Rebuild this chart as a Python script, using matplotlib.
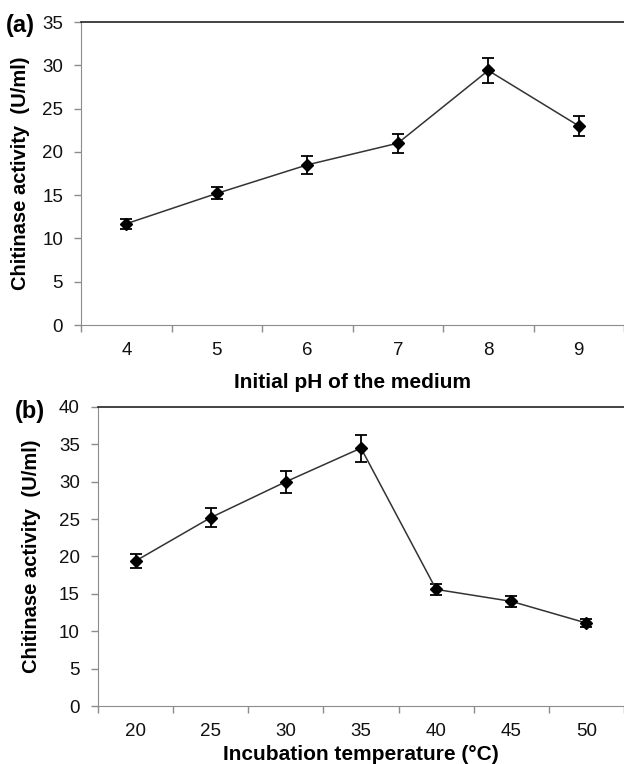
import numpy as np
import matplotlib
matplotlib.use("Agg")
import matplotlib.pyplot as plt

# panel (a): pH
ph_labels = ["4", "5", "6", "7", "8", "9"]
ph_activity = [11.7, 15.2, 18.5, 21.0, 29.4, 23.0]
ph_err = [0.6, 0.7, 1.0, 1.1, 1.4, 1.2]

# panel (b): temperature
temp_labels = ["20", "25", "30", "35", "40", "45", "50"]
temp_activity = [19.4, 25.2, 30.0, 34.5, 15.6, 14.0, 11.1]
temp_err = [0.9, 1.3, 1.5, 1.8, 0.7, 0.7, 0.5]

tickfont = ["Liberation Sans", "DejaVu Sans"]
bold = ["Liberation Sans", "DejaVu Sans"]
grey = "#8c8c8c"


def draw_panel(ax, labels, values, errs, ymax, xlabel):
    n = len(labels)
    x = np.arange(n)
    ax.errorbar(x, values, yerr=errs, color="#333333", lw=1.1,
                marker="D", markersize=6.5, mfc="black", mec="black",
                ecolor="black", elinewidth=1.3, capsize=4, capthick=1.3)
    ax.set_xlim(-0.5, n - 0.5)
    ax.set_ylim(0, ymax)
    ax.set_yticks(np.arange(0, ymax + 1, 5))
    ax.set_yticklabels([str(v) for v in range(0, ymax + 1, 5)],
                       family=tickfont, fontsize=13.5, color="#111111")
    # ticks on category boundaries, labels at centres
    ax.set_xticks(np.arange(n + 1) - 0.5)
    ax.set_xticklabels([""] * (n + 1))
    ax.set_xticks(x, minor=True)
    ax.set_xticklabels(labels, minor=True, family=tickfont, fontsize=13.5,
                       color="#111111")
    ax.tick_params(axis="x", which="minor", length=0, pad=12)
    ax.tick_params(axis="y", which="major", pad=8)
    ax.tick_params(axis="both", which="major", direction="out", length=5,
                   color=grey, width=1)
    ax.spines["right"].set_visible(False)
    ax.spines["left"].set_color(grey)
    ax.spines["bottom"].set_color(grey)
    ax.spines["top"].set_color("#222222")
    ax.spines["top"].set_linewidth(1.2)
    ax.set_ylabel("Chitinase activity  (U/ml)", family=bold,
                  fontweight="bold", fontsize=14.5)
    ax.set_xlabel(xlabel, family=bold, fontweight="bold", fontsize=15)


fig = plt.figure(figsize=(6.24, 7.64), dpi=100)

ax1 = fig.add_axes([0.130, 0.5746, 0.87, 0.3966])
draw_panel(ax1, ph_labels, ph_activity, ph_err, 35, "Initial pH of the medium")
ax1.xaxis.labelpad = 10
ax1.yaxis.labelpad = 9

ax2 = fig.add_axes([0.157, 0.0759, 0.843, 0.3914])
draw_panel(ax2, temp_labels, temp_activity, temp_err, 40,
           "Incubation temperature (°C)")
ax2.xaxis.labelpad = 4
ax2.yaxis.labelpad = 13

fig.text(0.010, 0.967, "(a)", family=bold, fontweight="bold", fontsize=17,
         va="center", ha="left")
fig.text(0.024, 0.461, "(b)", family=bold, fontweight="bold", fontsize=17,
         va="center", ha="left")

plt.savefig("out.png", dpi=100)
plt.close(fig)
